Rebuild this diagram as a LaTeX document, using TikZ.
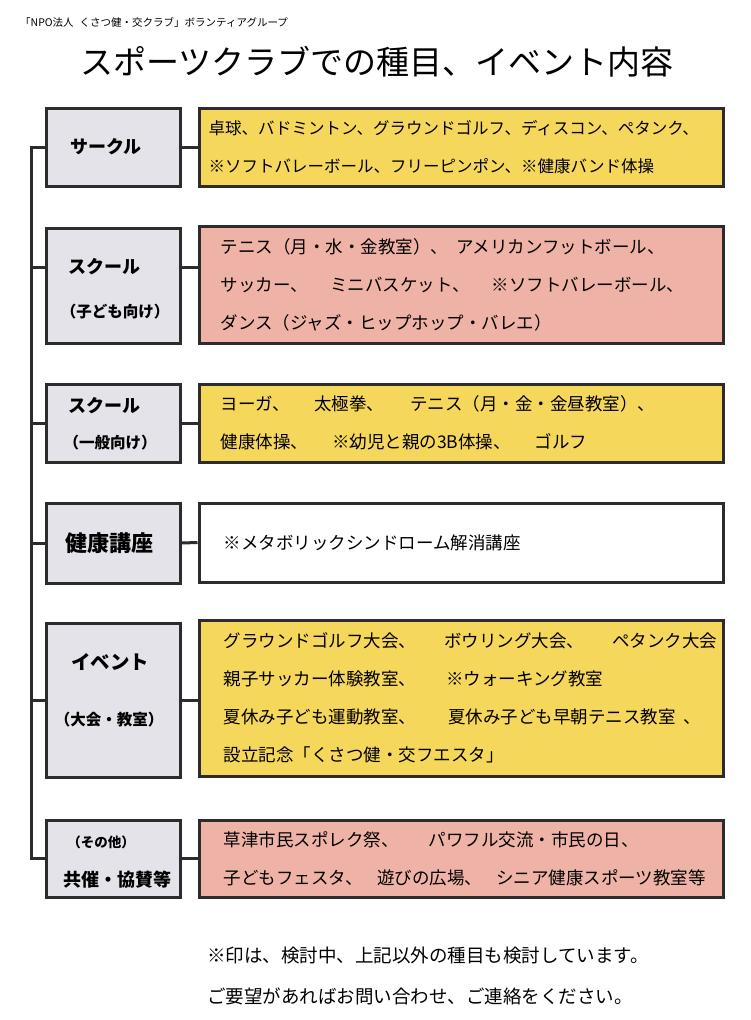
\documentclass[tikz,border=0pt]{standalone}
\usepackage{fontspec}
\setmainfont{Noto Sans CJK JP}
\usepackage{tikz}
\usetikzlibrary{positioning}

\definecolor{ink}{HTML}{2E2B2C}
\definecolor{lgray}{HTML}{E4E3EA}
\definecolor{yel}{HTML}{F5D75C}
\definecolor{pink}{HTML}{EFB2A6}

\begin{document}
\begin{tikzpicture}[x=1pt, y=-1pt,
  lbox/.style={draw=ink, line width=3pt, fill=lgray, minimum width=134pt, inner sep=0pt, font=\fontsize{18}{22}\selectfont\bfseries},
  rbox/.style={draw=ink, line width=3pt, fill=#1, minimum width=524pt, inner sep=0pt},
  lab/.style={inner sep=0pt, font=\fontsize{18}{22}\selectfont\bfseries},
  sub/.style={inner sep=0pt, font=\fontsize{15.5}{18}\selectfont\bfseries},
  txt/.style={align=left, anchor=west, inner sep=0pt, font=\fontsize{17.5}{38}\selectfont},
  link/.style={draw=ink, line width=3pt}]
    \useasboundingbox[fill=white] (0,0) rectangle (750,1020);

    % heading
    \node[anchor=west, inner sep=0pt, font=\fontsize{10.5}{13}\selectfont] (club) at (20,22) {「NPO法人\hspace{6pt}くさつ健・交クラブ」ボランティアグループ};
    \node[inner sep=0pt, font=\fontsize{33}{40}\selectfont] (title) at (377,62) {スポーツクラブでの種目、イベント内容};

    % left boxes
    \node[lbox, minimum height=78pt]  (circ)   at (113,147)   {サークル\hspace*{14pt}};
    \node[lbox, minimum height=115pt] (kids)   at (113,285.5) {};
    \node[lbox, minimum height=78pt]  (adults) at (113,423)   {};
    \node[lbox, minimum height=80pt, font=\fontsize{22}{26}\selectfont\bfseries] (health) at (113,543) {健康講座\hspace*{8pt}};
    \node[lbox, minimum height=154pt] (event)  at (113,700)   {};
    \node[lbox, minimum height=77pt]  (other)  at (113,858.5) {};

    \node[lab] (kidsname)   at (104,267) {スクール};
    \node[sub] (kidsfor)    at (115,312) {（子ども向け）};
    \node[lab] (adultsname) at (104,406) {スクール};
    \node[sub] (adultsfor)  at (110,443) {（一般向け）};
    \node[lab, font=\fontsize{19.5}{22}\selectfont\bfseries] (eventname) at (110,662) {イベント};
    \node[sub] (eventfor)   at (109,720) {（大会・教室）};
    \node[sub, font=\fontsize{13.5}{16}\selectfont\bfseries] (otherfor) at (101,842) {（その他）};
    \node[lab] (othername)  at (117,880) {共催・協賛等};

    % right boxes
    \node[rbox=yel,   minimum height=78pt]  (circlist)   at (461,147)   {};
    \node[rbox=pink,  minimum height=117pt] (kidslist)   at (461,284.5) {};
    \node[rbox=yel,   minimum height=78pt]  (adultslist) at (461,423)   {};
    \node[rbox=white, minimum height=79pt]  (healthlist) at (461,542.5) {};
    \node[rbox=yel,   minimum height=156pt] (eventlist)  at (461,698)   {};
    \node[rbox=pink,  minimum height=77pt]  (otherlist)  at (461,858.5) {};

    \node[txt, font=\fontsize{16.5}{38}\selectfont] (circtext) at ([xshift=11pt]circlist.west)
      {卓球、バドミントン、グラウンドゴルフ、ディスコン、ペタンク、\\※ソフトバレーボール、フリーピンポン、※健康バンド体操};
    \node[txt] (kidstext) at ([xshift=23pt]kidslist.west)
      {テニス（月・水・金教室）、\hspace{8pt}アメリカンフットボール、\\
       サッカー、\hspace{22pt}ミニバスケット、\hspace{22pt}※ソフトバレーボール、\\
       ダンス（ジャズ・ヒップホップ・バレエ）};
    \node[txt] (adultstext) at ([xshift=23pt]adultslist.west)
      {ヨーガ、\hspace{24pt}太極拳、\hspace{26pt}テニス（月・金・金昼教室）、\\
       健康体操、\hspace{24pt}※幼児と親の3B体操、\hspace{24pt}ゴルフ};
    \node[txt] (healthtext) at ([xshift=26pt]healthlist.west) {※メタボリックシンドローム解消講座};
    \node[txt] (eventtext) at ([xshift=26pt]eventlist.west)
      {グラウンドゴルフ大会、\hspace{28pt}ボウリング大会、\hspace{28pt}ペタンク大会\\
       親子サッカー体験教室、\hspace{30pt}※ウォーキング教室\\
       夏休み子ども運動教室、\hspace{32pt}夏休み子ども早朝テニス教室\hspace{8pt}、\\
       設立記念「くさつ健・交フエスタ」};
    \node[txt] (othertext) at ([xshift=26pt]otherlist.west)
      {草津市民スポレク祭、\hspace{30pt}パワフル交流・市民の日、\\
       子どもフェスタ、\hspace{14pt}遊びの広場、\hspace{14pt}シニア健康スポーツ教室等};

    % trunk and links
    \coordinate (top) at (31,147);
    \coordinate (bot) at (31,858.5);
    \coordinate (kidsrow) at (0,267);
    \draw[link] (circ.west) -- (top) -- (bot) -- (other.west);
    \draw[link] (top |- kidsrow) -- (kids.west |- kidsrow);
    \draw[link] (top |- adults.west) -- (adults.west);
    \draw[link] (top |- health.west) -- (health.west);
    \draw[link] (top |- event.west) -- (event.west);
    \draw[link] (circ.east) -- (circlist.west);
    \draw[link] (kids.east |- kidsrow) -- (kidslist.west |- kidsrow);
    \draw[link] (adults.east) -- (adultslist.west);
    \draw[link] (health.east) -- (healthlist.west);
    \draw[link] (event.east) -- (eventlist.west |- event.east);
    \draw[link] (other.east) -- (otherlist.west);

    % notes
    \node[txt, font=\fontsize{18.5}{22}\selectfont] (note) at (207,955) {※印は、検討中、上記以外の種目も検討しています。};
    \node[txt, font=\fontsize{18.5}{22}\selectfont] (ask)  at (207,996) {ご要望があればお問い合わせ、ご連絡をください。};
\end{tikzpicture}
\end{document}
